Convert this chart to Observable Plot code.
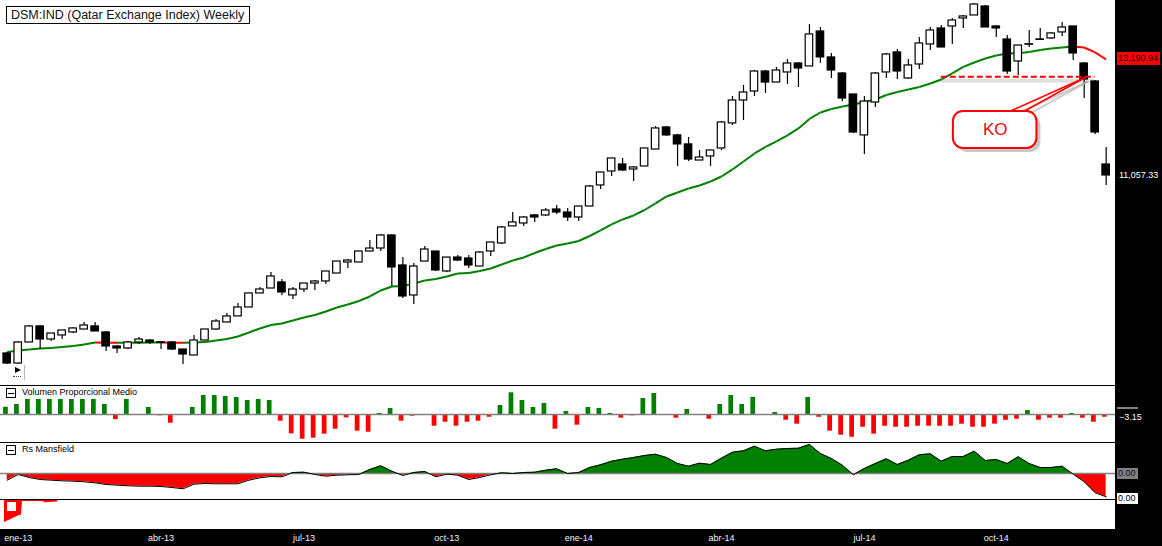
<!DOCTYPE html>
<html><head><meta charset="utf-8">
<script src="https://cdn.jsdelivr.net/npm/d3@7"></script>
<script src="https://cdn.jsdelivr.net/npm/@observablehq/plot@0.6"></script>
<style>
html,body{margin:0;padding:0;background:#fff;}
#chart{position:relative;width:1162px;height:546px;overflow:hidden;background:#fff;font-family:"Liberation Sans",Arial,sans-serif;}
#chart svg{position:absolute;background:none !important;overflow:visible;max-width:none;}
.abs{position:absolute;}
.hdr{position:absolute;font-size:9px;line-height:11px;color:#000;white-space:nowrap;}
.ico{position:absolute;width:8px;height:8px;border:1px solid #000;background:#fff;}
.ico:after{content:"";position:absolute;left:1px;right:1px;top:3.5px;height:1px;background:#000;}
.lbl{position:absolute;font-size:9px;line-height:12px;white-space:nowrap;padding:0 1px;}
</style></head><body>
<div id="chart"></div>
<script>
// ---------- data (weekly, week index 0..100) ----------
const open  = [8435,8307,8577,8789,8616,8669,8709,8748,8789,8709,
               8525,8499,8577,8603,8572,8577,8486,8409,8603,8748,
               8842,8924,9046,9241,9311,9397,9213,9297,9382,9411,
               9526,9687,9687,9850,9895,10093,9643,9213,9701,9850,
               9555,9760,9746,9628,9850,9971,10233,10279,10405,10405,
               10500,10452,10373,10548,10891,11125,11244,11159,11210,11503,
               11895,11752,11592,11312,11382,11521,11968,12393,12564,12952,
               12737,12933,13111,13052,13765,13232,12913,12507,11752,12355,
               12933,13333,12815,13091,13496,13828,13870,14040,14104,14298,
               13870,13598,13151,13490,13590,13620,13745,13870,13111,12757,11244];
const high  = [8448,8590,8802,8802,8695,8735,8775,8842,8842,8722,
               8538,8590,8643,8616,8590,8590,8486,8669,8748,8883,
               8964,9101,9241,9326,9541,9440,9326,9382,9425,9555,
               9701,9731,9850,10016,10108,10108,9760,9672,9925,9850,
               9760,9790,9790,9850,9986,10233,10452,10389,10421,10516,
               10565,10516,10548,10891,11108,11347,11347,11210,11521,11913,
               11913,11770,11716,11486,11486,12004,12469,12680,12972,12972,
               13032,13191,13131,13913,13849,13312,12933,12507,12469,12933,
               13312,13394,13191,13640,13849,13890,14040,14104,14364,14320,
               13891,13682,13475,13786,13828,13745,13955,13870,13131,12776,11538];
const low   = [8295,8295,8577,8486,8590,8616,8695,8748,8722,8460,
               8435,8486,8551,8551,8486,8473,8295,8409,8603,8735,
               8842,8924,9046,9241,9311,9213,9157,9255,9283,9368,
               9526,9599,9687,9850,9850,9340,9171,9088,9701,9555,
               9541,9701,9599,9628,9775,9956,10233,10233,10295,10389,
               10421,10310,10310,10548,10824,11040,11125,10957,11210,11503,
               11734,11210,11295,11312,11210,11486,11932,12022,12469,12526,
               12737,12699,12641,13052,13111,12815,12374,11787,11416,12262,
               12815,12796,12796,12992,13373,13434,13496,13828,14104,13849,
               13640,12894,12874,13434,13578,13598,13661,13171,12431,11770,10891];
const close = [8307,8577,8789,8616,8695,8735,8762,8802,8722,8525,
               8499,8577,8616,8577,8580,8486,8422,8603,8748,8856,
               8924,9046,9241,9297,9483,9255,9297,9382,9411,9555,
               9701,9716,9850,9895,10093,9614,9199,9628,9880,9570,
               9760,9716,9643,9835,9986,10217,10295,10373,10373,10484,
               10452,10373,10548,10874,11108,11347,11142,11193,11521,11877,
               11752,11592,11329,11364,11486,11986,12393,12545,12952,12737,
               12972,13111,13012,13703,13232,12972,12431,11805,12374,12913,
               13292,12952,13072,13516,13786,13434,13997,14083,14342,13849,
               13828,12952,13475,13500,13600,13724,13849,13312,12796,11805,11057.33];
// 30-week moving average
const ma    = [8454,8473,8486,8499,8506,8519,8532,8551,8576,8574,
               8572,8573,8574,8576,8577,8575,8573,8577,8583,8603,
               8623,8656,8709,8762,8809,8829,8869,8910,8944,8991,
               9046,9088,9136,9199,9283,9340,9345,9382,9425,9447,
               9483,9526,9534,9563,9599,9658,9716,9760,9828,9888,
               9941,9971,10009,10085,10170,10264,10342,10405,10492,10597,
               10710,10775,10841,10891,10957,11040,11159,11295,11434,11548,
               11645,11752,11877,12050,12169,12234,12281,12318,12365,12412,
               12498,12555,12602,12651,12718,12796,12913,13042,13131,13211,
               13272,13312,13315,13343,13383,13414,13434,13455,13434,13333,13190.94];
// Volumen Proporcional Medio
const volume = [8.5,11.7,17.6,17.6,17.6,17.6,17.6,17.6,17.6,11.7,
                -5.9,17.6,0,8.2,-1.5,-10.2,0,8.2,22.2,22.2,
                21.1,19.9,16.4,17.6,16.4,-7.8,-22.6,-28.9,-27.7,-23.0,
                -17.2,-3.9,-19.5,-20.7,1.2,7.0,-7.8,-2.0,-1.2,-13.7,
                -9.0,-13.7,-9.0,-7.8,-3.2,10.5,25.4,16.4,8.2,12.9,
                -17.2,3.5,-12.5,8.2,7.0,1.2,-4.3,-1.5,18.7,24.6,
                0,-4.3,5.9,0,-5.5,11.7,22.2,11.7,19.9,0,
                2.3,-6.7,-11.3,19.9,-3.2,-19.5,-24.2,-26.6,-14.9,-23.0,
                -13.7,-14.9,-14.9,-13.7,-13.7,-13.7,-13.7,-11.3,-14.9,-14.9,
                -11.3,-6.7,-5.5,4.7,-6.7,-4.3,-4.3,1.2,-4.3,-9.0,-3.15];
// Rs Mansfield
const rsMansfield = [-6.7,-1,-4,-6,-6.7,-7.3,-7.7,-8.3,-9.3,-11,
                     -11.7,-12.3,-12.7,-12.7,-13,-14,-15.3,-10.7,-10,-10.3,
                     -10.3,-10.3,-6.7,-4.3,-3,-3.3,1,1.3,-1,-2.7,
                     -1.7,-1.3,-1,4,7.7,2.3,-2,1,2,-3.3,
                     -0.7,-1.7,-6,-4,-1.3,0.7,0,1,1.3,3.3,
                     4.7,0,1,6,8.7,12.3,14.3,16,18,19.3,
                     16,10,7.3,10.3,9,15.3,21.3,22.7,27.3,22.7,
                     24.3,25,25.3,29,20,15,8.3,-1.3,5,10,
                     14.7,9,13.3,18.7,19.7,12.3,17,17,22.3,13,
                     14,10,16.7,10,6,6,7.3,-0.7,-8.3,-19.3,-23.3];
// third (lower) indicator, only a few weeks at the start
const thirdWeek  = [-0.25,1.12,1.3,1.39,3.3,3.39,4.58,4.67];
const thirdValue = [-23,-16,-15.5,-2,-2,-3.3,-2.5,0];
const thirdHole  = [{x1:0.03, x2:0.85, y1:-3, y2:-12}];
// x-axis tick labels
const tickWeeks  = [1,14,27,40,52,65,78,90];
const tickLabels = ["ene-13","abr-13","jul-13","oct-13","ene-14","abr-14","jul-14","oct-14"];
// annotations
const koLine  = [{level:12850, from:85, to:99}];
const koBox   = [{x1:86.1, x2:93.7, y1:12188, y2:11521, label:"KO", tx:89.9, ty:11850}];
const koArrow = [{x1:91.2, y1:12188, x2:98.1, y2:12835},{x1:92.5, y1:12188, x2:98.1, y2:12835}];
const title = "DSM:IND (Qatar Exchange Index) Weekly";

// ---------- layout ----------
const GREEN = "#008000", RED = "#ff0000";
const W = 1162, MR = 47;
const xDomain = [-0.61, 100.85];
const chart = document.getElementById("chart");
function div(cls, css, text){const d=document.createElement("div"); if(cls) d.className=cls; Object.assign(d.style, css); if(text!=null) d.textContent=text; chart.appendChild(d); return d;}
function place(svg, top){svg.style.top = top+"px"; svg.style.left = "0px"; chart.appendChild(svg); return svg;}
const base = {width:W, marginLeft:0, marginRight:MR, marginTop:0, marginBottom:0,
              style:{background:"none", overflow:"visible"}};

// black strips
div("abs",{left:"1115px",top:"0px",width:"47px",height:"546px",background:"#000"});
div("abs",{left:"0px",top:"529px",width:"1162px",height:"17px",background:"#000"});

// ---------- main price panel ----------
const candles = open.map((o,i)=>({i, open:o, high:high[i], low:low[i], close:close[i]}));
const maSegs = ma.slice(1).map((v,k)=>({x1:k, x2:k+1, y1:ma[k], y2:v, c: v < ma[k] ? RED : GREEN}));
const main = Plot.plot({...base, height:385,
  x:{domain:xDomain, axis:null},
  y:{type:"log", domain:[8046,14429], range:[384,0], axis:null},
  marks:[
    Plot.ruleY(koLine,{y:"level", x1:"from", x2:"to", stroke:"#c8c8c8", strokeWidth:4, strokeOpacity:0.6, dy:4}),
    Plot.link(maSegs,{x1:"x1", x2:"x2", y1:"y1", y2:"y2", stroke:"c", strokeWidth:2}),
    Plot.ruleX(candles,{x:"i", y1:"low", y2:"high", stroke:"#000", strokeWidth:1.2}),
    Plot.rect(candles,{x1:d=>d.i-0.34, x2:d=>d.i+0.34, y1:"open", y2:"close",
      fill:d=>d.close>=d.open?"#fff":"#000", stroke:"#000", strokeWidth:1.2}),
    Plot.ruleY(koLine,{y:"level", x1:"from", x2:"to", stroke:RED, strokeWidth:2, strokeDasharray:"6,3"}),
    Plot.rect(koBox,{x1:"x1", x2:"x2", y1:"y1", y2:"y2", fill:"#9a9a9a", fillOpacity:0.55, rx:10, dx:4, dy:4}),
    Plot.link(koArrow,{x1:"x1", y1:"y1", x2:"x2", y2:"y2", stroke:"#aaa", strokeOpacity:0.6, strokeWidth:2, dx:3, dy:4}),
    Plot.rect(koBox,{x1:"x1", x2:"x2", y1:"y1", y2:"y2", fill:"#fff", stroke:RED, strokeWidth:2, rx:10}),
    Plot.link(koArrow,{x1:"x1", y1:"y1", x2:"x2", y2:"y2", stroke:RED, strokeWidth:1.6}),
    Plot.text(koBox,{x:"tx", y:"ty", text:"label", fill:RED, fontSize:17, fontFamily:"Liberation Sans, Arial, sans-serif"})
  ]});
place(main, 0);
const yMain = main.scale("y");
const fmt = d3.format(",.2f");
{ const yy = yMain.apply(ma[ma.length-1]);
  div("lbl",{left:"1117px",top:(yy-6.5)+"px",width:"41px",height:"13px",background:RED,color:"#200",lineHeight:"13px"}, fmt(ma[ma.length-1])); }
{ const yy = yMain.apply(close[close.length-1]);
  div("lbl",{left:"1118px",top:(yy-6)+"px",color:"#fff"}, fmt(close[close.length-1])); }

// title box
div("abs",{left:"6px",top:"6px",width:"238px",height:"16px",border:"1px solid #000",background:"#fff",
  fontSize:"12.5px",lineHeight:"16px",paddingLeft:"4px",color:"#111",whiteSpace:"nowrap"}, title);
// small marker bottom-left
div("abs",{left:"15px",top:"367px",width:"0",height:"0",borderTop:"3.5px solid transparent",borderBottom:"3.5px solid transparent",borderLeft:"6px solid #000"});
div("abs",{left:"13px",top:"376px",width:"8px",height:"0",borderTop:"1px dotted #444"});
div("abs",{left:"24px",top:"365px",width:"1px",height:"15px",background:"#bbb"});

// ---------- volume panel ----------
const volData = volume.map((v,i)=>({i, v}));
const vol = Plot.plot({...base, height:57,
  x:{domain:xDomain, axis:null},
  y:{domain:[-32.76,33.93], range:[57,0], axis:null},
  marks:[
    Plot.rectY(volData,{x1:d=>d.i-0.33, x2:d=>d.i+0.1, y:"v", fill:d=>d.v>=0?GREEN:RED}),
    Plot.ruleY([0],{stroke:"#808080", strokeWidth:1.5})
  ]});
place(vol, 385);
{ const yy = 385 + vol.scale("y").apply(volume[volume.length-1]);
  div("abs",{left:"1117px",top:(yy-10)+"px",width:"21px",height:"2.5px",background:"#808080"});
  div("lbl",{left:"1118px",top:(yy-6)+"px",color:"#fff"}, d3.format(".2f")(volume[volume.length-1])); }

// ---------- Rs Mansfield panel ----------
const rsPts = [];
rsMansfield.forEach((v,i)=>{
  if(i>0){const p=rsMansfield[i-1]; if((p<0&&v>0)||(p>0&&v<0)){const t=p/(p-v); rsPts.push({x:i-1+t, v:0});}}
  rsPts.push({x:i, v});
});
const rs = Plot.plot({...base, height:57,
  x:{domain:xDomain, axis:null},
  y:{domain:[-26,31], range:[57,0], axis:null},
  marks:[
    Plot.areaY(rsPts,{x:"x", y1:0, y2:d=>Math.max(0,d.v), fill:GREEN}),
    Plot.areaY(rsPts,{x:"x", y1:0, y2:d=>Math.min(0,d.v), fill:RED}),
    Plot.ruleY([0],{stroke:"#808080", strokeWidth:1.5}),
    Plot.lineY(rsPts,{x:"x", y:"v", stroke:"#000", strokeWidth:1})
  ]});
place(rs, 442);
{ const yy = 442 + rs.scale("y").apply(0);
  div("lbl",{left:"1117px",top:(yy-5.5)+"px",width:"19px",height:"11px",lineHeight:"11px",background:"#808080",color:"#111"}, "0.00"); }

// ---------- third panel ----------
const thirdPts = thirdWeek.map((x,k)=>({x, v:thirdValue[k]}));
const third = Plot.plot({...base, height:30,
  x:{domain:xDomain, axis:null},
  y:{domain:[-30,0], range:[30,0], axis:null},
  marks:[
    Plot.areaY(thirdPts,{x:"x", y1:0, y2:"v", fill:RED}),
    Plot.rect(thirdHole,{x1:"x1", x2:"x2", y1:"y1", y2:"y2", fill:"#fff"})
  ]});
place(third, 499);
div("lbl",{left:"1117px",top:"493px",width:"19px",height:"11px",lineHeight:"11px",background:"#fff",color:"#000"}, "0.00");

// panel separators
[385,442,499].forEach(t=>div("abs",{left:"0px",top:t+"px",width:"1115px",height:"1px",background:"#000"}));
// panel headers
div("ico",{left:"6px",top:"388px"}); div("hdr",{left:"22px",top:"387px"}, "Volumen Proporcional Medio");
div("ico",{left:"6px",top:"445px"}); div("hdr",{left:"22px",top:"444px"}, "Rs Mansfield");

// ---------- x axis strip ----------
const ticks = tickWeeks.map((w,k)=>({w, label:tickLabels[k]}));
const xax = Plot.plot({...base, height:17,
  x:{domain:xDomain, axis:null},
  y:{domain:[0,1], axis:null},
  marks:[Plot.text(ticks,{x:"w", frameAnchor:"middle", text:"label", fill:"#f0f4ff", fontSize:9, fontFamily:"Liberation Sans, Arial, sans-serif"})]});
place(xax, 529);
</script>
</body></html>
